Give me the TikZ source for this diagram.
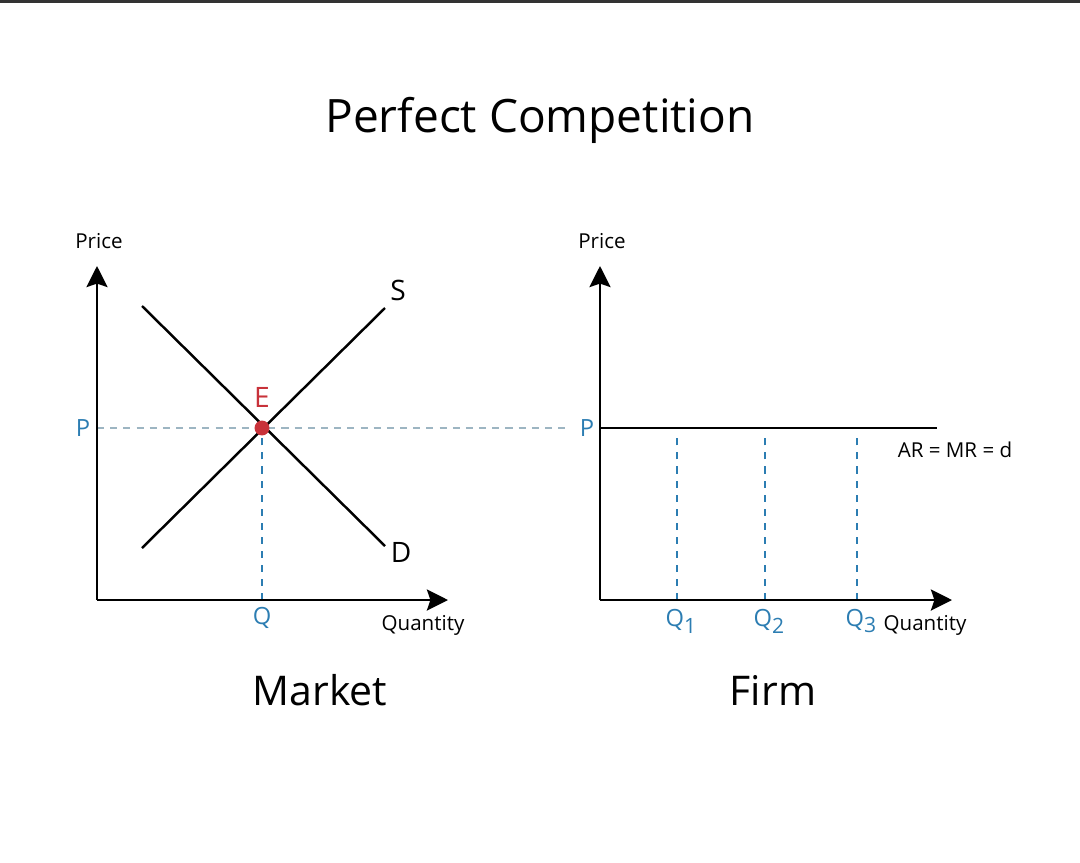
\documentclass[tikz,border=0pt]{standalone}
\usepackage{fontspec}
\setmainfont{Open Sans}
\usepackage{tikz}
\usetikzlibrary{arrows.meta}

\definecolor{qblue}{HTML}{2C7DB2}
\definecolor{eqred}{HTML}{C8323A}
\definecolor{guidegray}{HTML}{9DB5C2}
\newcommand{\qsub}[1]{\raisebox{-0.55ex}{\fontsize{12}{12}\selectfont #1}}

\begin{document}
\begin{tikzpicture}[
  x=0.02cm, y=-0.02cm,
  axis/.style={line width=1.4pt, -{Stealth[length=12pt, width=12pt, inset=2pt]}},
  curve/.style={line width=1.4pt},
  guide/.style={guidegray, line width=0.6pt, dash pattern=on 4pt off 3.5pt},
  qguide/.style={qblue, line width=0.6pt, dash pattern=on 4pt off 4pt},
  axlabel/.style={font=\fontsize{11.7}{13}\selectfont},
  val/.style={text=qblue, font=\fontsize{13.5}{15}\selectfont},
  curvelabel/.style={font=\fontsize{16}{18}\selectfont},
  heading/.style={font=\fontsize{23.3}{27}\selectfont},
  dot/.style={circle, fill=eqred, inner sep=0pt, minimum size=8.5pt}
]
\useasboundingbox (0,0) rectangle (1080,863);
\fill[black!80] (0,0) rectangle (1080,3);

\node[font=\fontsize{26.2}{30}\selectfont] (title) at (540,120) {Perfect Competition};

% Market
\coordinate (mO) at (97,600);
\coordinate (mY) at (97,266);
\coordinate (mX) at (448,600);
\coordinate (mP) at (97,428);
\coordinate (mQ) at (262,600);
\coordinate (s0) at (142,548);
\coordinate (s1) at (385,308);
\coordinate (d0) at (142,306);
\coordinate (d1) at (385,546);
\coordinate (pEnd) at (566,428);

\draw[guide] (mP) -- (pEnd);
\draw[qguide] (mQ) -- (262,432);
\draw[curve] (s0) -- (s1);
\draw[curve] (d0) -- (d1);
\draw[axis] (mO) -- (mY);
\draw[axis] (mO) -- (mX);
\node[dot] (E) at (262,428) {};

\node[axlabel] (mprice) at (99,241) {Price};
\node[axlabel] (mqty) at (423,625) {Quantity};
\node[val] (mPl) at (83,428) {P};
\node[val] (mQl) at (262,618) {Q};
\node[curvelabel] (Sl) at (398,290) {S};
\node[curvelabel] (Dl) at (401,552) {D};
\node[curvelabel, text=eqred] (El) at (262,397) {E};
\node[heading] (market) at (320,690) {Market};

% Firm
\coordinate (fO) at (600,600);
\coordinate (fY) at (600,266);
\coordinate (fX) at (952,600);
\coordinate (fP) at (600,428);
\coordinate (fEnd) at (937,428);

\foreach \qx in {677,765,857}
  \draw[qguide] (\qx,600) -- (\qx,432);
\draw[curve] (fP) -- (fEnd);
\draw[axis] (fO) -- (fY);
\draw[axis] (fO) -- (fX);

\node[axlabel] (fprice) at (602,241) {Price};
\node[axlabel] (fqty) at (925,625) {Quantity};
\node[axlabel] (arl) at (955,450) {AR = MR = d};
\node[val] (fPl) at (587,428) {P};
\node[val] (q1) at (681,621) {Q\qsub{1}};
\node[val] (q2) at (769,621) {Q\qsub{2}};
\node[val] (q3) at (861,621) {Q\qsub{3}};
\node[heading] (firm) at (773,690) {Firm};
\end{tikzpicture}
\end{document}
